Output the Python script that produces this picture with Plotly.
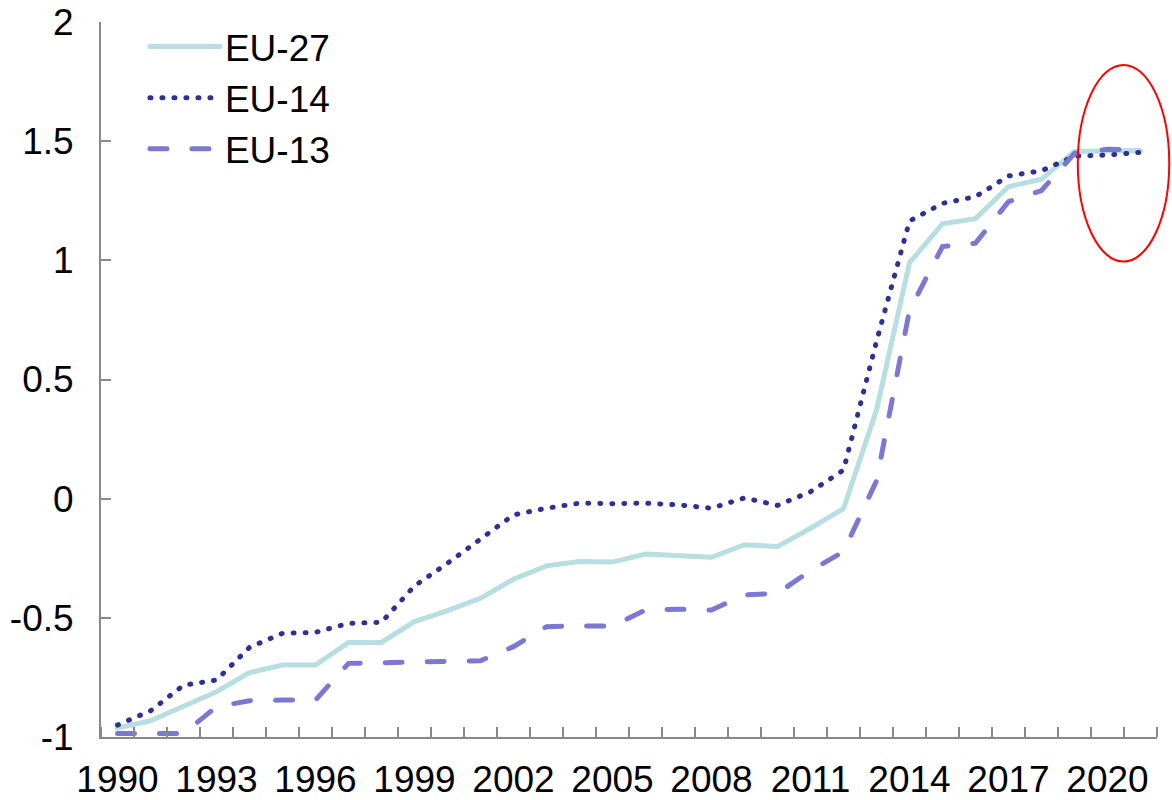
import plotly.graph_objects as go

# Index values by year, 1990-2021
years = list(range(1990, 2022))

eu27 = [-0.963, -0.932, -0.871, -0.810, -0.730, -0.698, -0.698, -0.603, -0.603, -0.516,
        -0.470, -0.418, -0.338, -0.282, -0.264, -0.266, -0.232, -0.238, -0.246, -0.193,
        -0.201, -0.124, -0.042, 0.372, 0.990, 1.153, 1.175, 1.309, 1.340, 1.457,
        1.458, 1.461]

eu14 = [-0.950, -0.890, -0.783, -0.761, -0.624, -0.565, -0.561, -0.523, -0.519, -0.366,
        -0.271, -0.170, -0.068, -0.040, -0.019, -0.021, -0.019, -0.026, -0.040, 0.003,
        -0.028, 0.029, 0.120, 0.660, 1.165, 1.239, 1.267, 1.354, 1.376, 1.437,
        1.442, 1.453]

eu13 = [-0.985, -0.985, -0.985, -0.873, -0.848, -0.845, -0.845, -0.691, -0.688, -0.684,
        -0.681, -0.680, -0.621, -0.537, -0.534, -0.534, -0.467, -0.464, -0.467, -0.404,
        -0.397, -0.302, -0.222, 0.075, 0.790, 1.058, 1.072, 1.246, 1.293, 1.449,
        1.466, 1.462]

x_tick_years = list(range(1990, 2021, 3))
y_tick_vals = [-1, -0.5, 0, 0.5, 1, 1.5, 2]
y_tick_text = ["-1", "-0.5", "0", "0.5", "1", "1.5", "2"]

FONT = "Liberation Sans, Arial, sans-serif"
AXIS_GREY = "#898989"

fig = go.Figure()
fig.add_trace(go.Scatter(x=years, y=eu27, name="EU-27", mode="lines",
                         line=dict(color="#B7DEE0", width=5)))
fig.add_trace(go.Scatter(x=years, y=eu14, name="EU-14", mode="lines",
                         line=dict(color="#2E3192", width=5, dash="1px,11px")))
fig.add_trace(go.Scatter(x=years, y=eu13, name="EU-13", mode="lines",
                         line=dict(color="#7B78D4", width=5, dash="17px,25px")))

# highlight around the most recent years
fig.add_shape(type="circle", xref="paper", yref="y",
              x0=0.925, x1=1.0116, y0=0.995, y1=1.820,
              line=dict(color="#FF0000", width=2), fillcolor="rgba(0,0,0,0)")

boundaries = [y - 0.5 for y in years] + [years[-1] + 0.5]

fig.update_layout(
    width=1172, height=800,
    margin=dict(l=101, r=15, t=22, b=63, autoexpand=False),
    paper_bgcolor="white", plot_bgcolor="white",
    font=dict(family=FONT, size=37, color="black"),
    showlegend=True,
    legend=dict(x=0.0416, y=1.0084, xanchor="left", yanchor="top",
                bgcolor="rgba(0,0,0,0)", font=dict(size=37),
                itemwidth=70, tracegroupgap=0),
    xaxis=dict(
        range=[years[0] - 0.5, years[-1] + 0.5],
        tickmode="array", tickvals=x_tick_years,
        ticktext=[str(y) for y in x_tick_years],
        ticks="", showgrid=False, zeroline=False, automargin=False,
        showline=True, linecolor=AXIS_GREY, linewidth=2,
        ticklabelstandoff=9,
        minor=dict(tickmode="array", tickvals=boundaries, ticks="inside",
                   ticklen=10, tickwidth=1.5, tickcolor=AXIS_GREY, showgrid=False),
    ),
    yaxis=dict(
        range=[-1, 2],
        tickmode="array", tickvals=y_tick_vals, ticktext=y_tick_text,
        ticks="inside", ticklen=10, tickwidth=1.5, tickcolor=AXIS_GREY,
        showgrid=False, zeroline=False, automargin=False,
        showline=True, linecolor=AXIS_GREY, linewidth=2,
        ticklabelstandoff=18,
    ),
)

round_caps = ("var s=document.createElement('style');"
              "s.textContent='.js-line{stroke-linecap:round;}';"
              "document.head.appendChild(s);")

fig.write_html("out.html", post_script=round_caps)
